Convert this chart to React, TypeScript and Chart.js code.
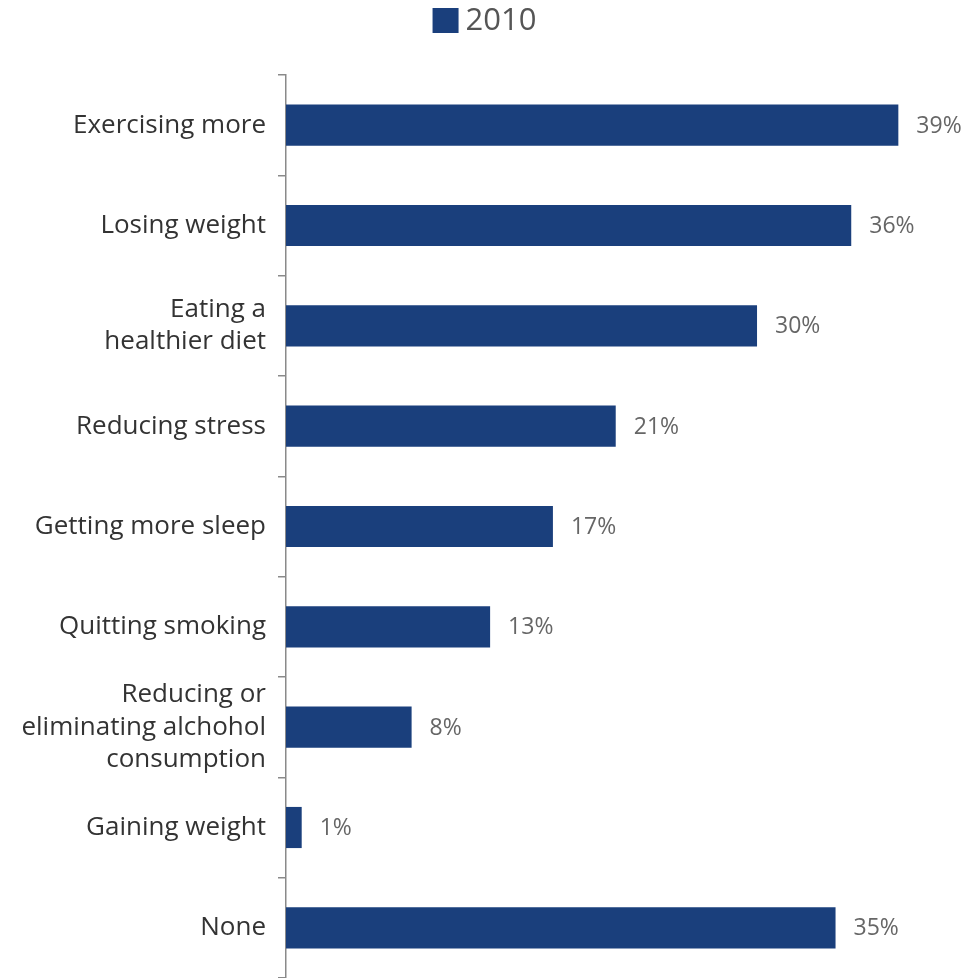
import React, { useEffect, useRef } from "react";
import { Chart, registerables } from "chart.js";

Chart.register(...registerables);

const categories: (string | string[])[] = [
  "Exercising more",
  "Losing weight",
  ["Eating a", "healthier diet"],
  "Reducing stress",
  "Getting more sleep",
  "Quitting smoking",
  ["Reducing or", "eliminating alchohol", "consumption"],
  "Gaining weight",
  "None",
];
const values2010 = [39, 36, 30, 21, 17, 13, 8, 1, 35];
const seriesLabel = "2010";
const barColor = "#1a3f7c";

const valueLabelPlugin = {
  id: "valueLabels",
  afterDatasetsDraw(chart: any) {
    const ctx = chart.ctx;
    const meta = chart.getDatasetMeta(0);
    ctx.save();
    ctx.font = "23px 'Open Sans', sans-serif";
    ctx.fillStyle = "#666666";
    ctx.textAlign = "left";
    ctx.textBaseline = "middle";
    meta.data.forEach((bar: any, i: number) => {
      const v = chart.data.datasets[0].data[i];
      ctx.fillText(v + "%", bar.x + 18, bar.y + 1);
    });
    ctx.restore();
  },
};

const topLegendPlugin = {
  id: "topLegend",
  afterDraw(chart: any) {
    const ctx = chart.ctx;
    const ds = chart.data.datasets[0];
    ctx.save();
    ctx.font = "31px 'Open Sans', sans-serif";
    const w = ctx.measureText(ds.label).width;
    const box = 26;
    const gap = 7;
    const total = box + gap + w;
    const x0 = (chart.width - total) / 2;
    ctx.fillStyle = ds.backgroundColor;
    ctx.fillRect(x0, 8, box, 25);
    ctx.fillStyle = "#555555";
    ctx.textAlign = "left";
    ctx.textBaseline = "middle";
    ctx.fillText(ds.label, x0 + box + gap, 21);
    ctx.restore();
  },
};

export default function App() {
  const ref = useRef<HTMLCanvasElement>(null);
  useEffect(() => {
    document.body.style.margin = "0";
    const chart = new Chart(ref.current!, {
      type: "bar",
      data: {
        labels: categories,
        datasets: [
          {
            label: seriesLabel,
            data: values2010,
            backgroundColor: barColor,
            borderWidth: 0,
            categoryPercentage: 1,
            barPercentage: 0.41,
          },
        ],
      },
      options: {
        indexAxis: "y",
        animation: false,
        responsive: false,
        maintainAspectRatio: false,
        layout: { padding: { top: 0, right: 0, bottom: 0, left: 0 } },
        plugins: {
          legend: { display: false },
          tooltip: { enabled: false },
          title: { display: false },
        },
        scales: {
          x: {
            display: false,
            min: 0,
            max: 43.5,
          },
          y: {
            afterFit: (scale: any) => {
              scale.width = 286;
              scale.paddingTop = 75;
              scale.paddingBottom = 0;
            },
            border: { display: true, color: "#8a8a8a", width: 1.5 },
            grid: {
              drawOnChartArea: false,
              drawTicks: true,
              tickLength: 8,
              color: "#8a8a8a",
              lineWidth: 1.5,
              offset: true,
            },
            ticks: {
              color: "#333333",
              font: { family: "'Open Sans', sans-serif", size: 26, lineHeight: 1.25 },
              padding: 12,
            },
          },
        },
      },
      plugins: [valueLabelPlugin, topLegendPlugin],
    });
    return () => chart.destroy();
  }, []);
  return (
    <div style={{ position: "absolute", left: 0, top: 0, width: 969, height: 978, background: "#ffffff" }}>
      <canvas ref={ref} width={969} height={978} style={{ width: 969, height: 978, display: "block" }} />
    </div>
  );
}
